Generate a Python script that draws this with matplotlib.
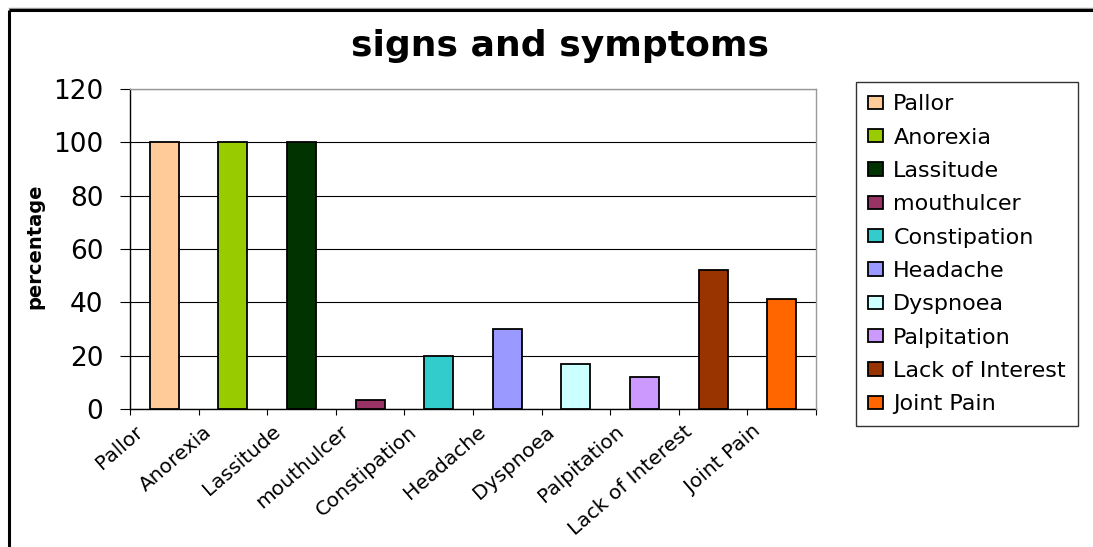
import numpy as np
import matplotlib
matplotlib.use("Agg")
import matplotlib.pyplot as plt
from matplotlib.transforms import ScaledTranslation
from matplotlib.lines import Line2D

# Data
categories = ["Pallor", "Anorexia", "Lassitude", "mouthulcer", "Constipation",
              "Headache", "Dyspnoea", "Palpitation", "Lack of Interest", "Joint Pain"]
percentages = [100, 100, 100, 3.2, 20, 30, 17, 12, 52, 41.4]
bar_colors = ["#FFCC99", "#99CC00", "#003300", "#993366", "#33CCCC",
              "#9999FF", "#CCFFFF", "#CC99FF", "#993300", "#FF6600"]
y_ticks = [0, 20, 40, 60, 80, 100, 120]

W, H = 1093, 547
plt.rcParams["font.family"] = ["DejaVu Sans"]

fig = plt.figure(figsize=(W / 100, H / 100), dpi=100)
fig.patch.set_facecolor("white")

# plot area in pixel terms
left, right, top, bottom = 130, 816, 89, 409
ax = fig.add_axes([left / W, 1 - bottom / H, (right - left) / W, (bottom - top) / H])

x = np.arange(len(categories))
bars = ax.bar(x, percentages, width=0.42, color=bar_colors,
              edgecolor="black", linewidth=1.3, zorder=3)

ax.set_xlim(-0.5, len(categories) - 0.5)
ax.set_ylim(0, 120)
ax.set_yticks(y_ticks)
ax.tick_params(axis="y", direction="out", length=7.2, width=0.8,
               labelsize=19, pad=12, color="black")

# category boundaries carry the tick marks; labels sit at the centres
ax.set_xticks(np.arange(-0.5, len(categories), 1.0), minor=True)
ax.set_xticks(x)
ax.set_xticklabels(categories, fontsize=14.5, rotation=41,
                   rotation_mode="anchor", ha="right", va="top")
ax.tick_params(axis="x", which="minor", direction="out", length=4, width=0.8)
ax.tick_params(axis="x", which="major", length=0, pad=0)
offset = ScaledTranslation(-30 / 100, -13 / 100, fig.dpi_scale_trans)
for lbl in ax.get_xticklabels():
    lbl.set_transform(lbl.get_transform() + offset)

ax.yaxis.grid(True, color="black", linewidth=0.8, zorder=1)
ax.set_axisbelow(True)
for side in ("left", "bottom"):
    ax.spines[side].set_color("black")
    ax.spines[side].set_linewidth(1.0)
for side in ("top", "right"):
    ax.spines[side].set_color("#999999")
    ax.spines[side].set_linewidth(1.0)
    ax.spines[side].set_zorder(4)

# title and axis title
fig.text(560 / W, 1 - 46 / H, "signs and symptoms", ha="center", va="center",
         fontsize=26, fontweight="bold")
fig.text(35 / W, 1 - 246 / H, "percentage", ha="center", va="center",
         rotation=90, fontsize=14, fontweight="bold")

# legend
leg = fig.legend(bars.patches, categories, loc="upper left",
                 bbox_to_anchor=(856 / W, 1 - 82 / H), borderaxespad=0,
                 fontsize=16, frameon=True, fancybox=False, shadow=False,
                 labelspacing=0.6, handlelength=0.68, handleheight=0.55,
                 handletextpad=0.45, borderpad=0.55)
leg.get_frame().set_edgecolor("black")
leg.get_frame().set_linewidth(1.0)

# outer chart frame
fig.add_artist(Line2D([9 / W, 1], [1 - 7.5 / H, 1 - 7.5 / H], transform=fig.transFigure,
                      color="#9a9a9a", linewidth=1.0))
fig.add_artist(Line2D([9 / W, 1], [1 - 10 / H, 1 - 10 / H], transform=fig.transFigure,
                      color="black", linewidth=2.2, solid_capstyle="butt"))
fig.add_artist(Line2D([9 / W, 9 / W], [0, 1 - 10 / H], transform=fig.transFigure,
                      color="black", linewidth=2.2, solid_capstyle="butt"))

fig.savefig("out.png", dpi=100)
